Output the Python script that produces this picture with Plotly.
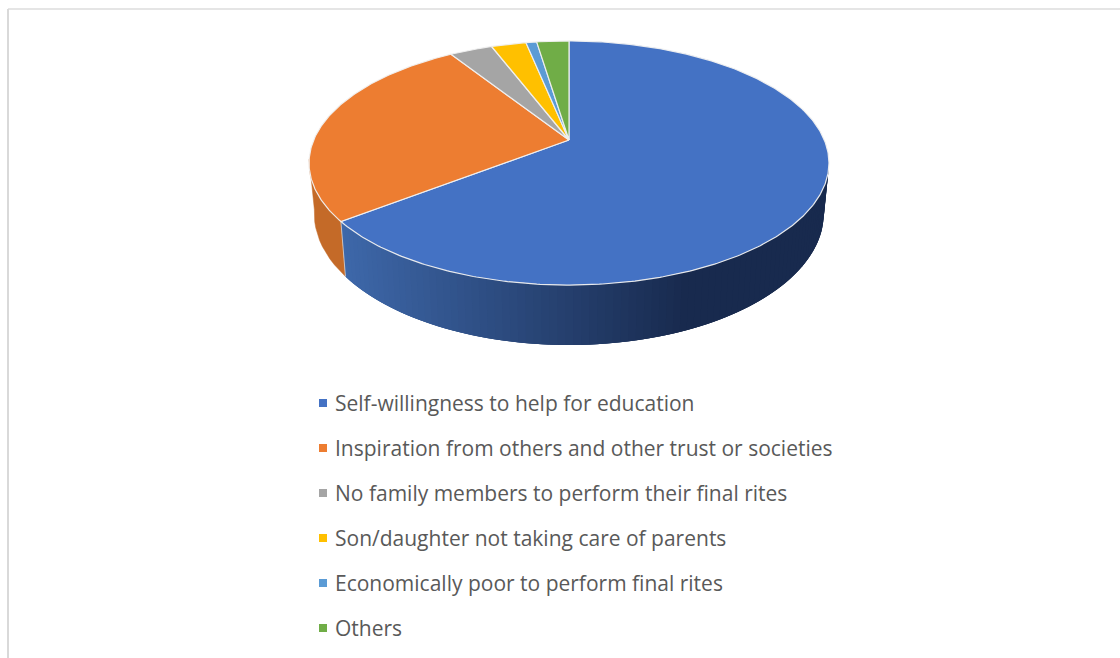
import numpy as np
import plotly.graph_objects as go

# Reasons for body donation, percent of respondents
categories = [
    "Self-willingness to help for education",
    "Inspiration from others and other trust or societies",
    "No family members to perform their final rites",
    "Son/daughter not taking care of parents",
    "Economically poor to perform final rites",
    "Others",
]
values = [64.5, 26.5, 3.2, 2.6, 0.8, 2.4]
colors = ["#4472C4", "#ED7D31", "#A5A5A5", "#FFC000", "#5B9BD5", "#70AD47"]

# Perspective disc: apex position, radii, foreshortening, wall height,
# and how much narrower the lower disc is than the top face
CX, CY = 569.0, 140.0
RX, RY = 255.3, 117.7
PERSP = 0.1885
WALL = 48.7
LOWER_SCALE = 0.98


def project(theta, drop=0.0, scale=1.0):
    """Map clockwise-from-top angles on the unit disc to page pixels."""
    u, v = np.sin(theta), np.cos(theta)
    w = 1 + PERSP * v
    return CX + scale * RX * u / w, CY - RY * v / w + drop / w


def mix(a, b, t):
    return "rgb(%d,%d,%d)" % tuple(round(x + (y - x) * t) for x, y in zip(a, b))


fig = go.Figure()


def polygon(x, y, fill, line=None, width=1.0):
    fig.add_trace(go.Scatter(
        x=x, y=y, mode="lines", fill="toself", fillcolor=fill,
        line=dict(color=line or fill, width=width),
        hoverinfo="skip", showlegend=False,
    ))


def wall(t0, t1, fill, width=0.5):
    th = np.linspace(t0, t1, 12)
    x0, y0 = project(th)
    x1, y1 = project(th[::-1], WALL, LOWER_SCALE)
    polygon(np.r_[x0, x1], np.r_[y0, y1], fill, width=width)


edges = np.cumsum([0] + values) / sum(values) * 2 * np.pi

# Visible rim: the front half of the disc, left and right of the silhouette
rim_right = np.pi - np.arccos(PERSP)
rim_left = np.pi + np.arccos(PERSP)

# Blue wall shades from mid blue at its left end to navy on the right.
# Strips are painted right to left and overlap the one before, so no seams show.
dark = (24, 42, 78)
light = (62, 104, 170)
steps = 90
strip = np.linspace(rim_right - 0.02, edges[1], steps + 1)
for i in range(steps):
    px = project(strip[i])[0]
    t = np.clip((px - 342) / (690 - 342), 0, 1)
    wall(strip[i], strip[min(i + 3, steps)], mix(dark, light, 1 - t), width=0)

# Orange wall, from the slice edge round to the left silhouette
wall(edges[1], rim_left + 0.03, "#C46A28")

# Seam between the two walls
seam = np.array([edges[1], edges[1]])
seam_top = project(seam[:1])
seam_low = project(seam[:1], WALL, LOWER_SCALE)
fig.add_trace(go.Scatter(
    x=np.r_[seam_top[0], seam_low[0]], y=np.r_[seam_top[1], seam_low[1]],
    mode="lines", hoverinfo="skip", showlegend=False,
    line=dict(color="rgba(225,225,225,0.7)", width=1),
))

# Top face slices
for i, (name, col) in enumerate(zip(categories, colors)):
    th = np.linspace(edges[i], edges[i + 1], max(3, int(values[i] * 6)))
    x, y = project(th)
    polygon(np.r_[CX, x, CX], np.r_[CY, y, CY], col, line="rgba(240,240,240,0.95)", width=1.2)

# Legend keys and labels, one row per category
row_y = [403 + 45 * i for i in range(len(categories))]
fig.add_trace(go.Scatter(
    x=[323] * len(categories), y=row_y, mode="markers",
    marker=dict(symbol="square", size=8, color=colors),
    hoverinfo="skip", showlegend=False,
))
fig.add_trace(go.Scatter(
    x=[335] * len(categories), y=[y + 3 for y in row_y], mode="text", text=categories,
    textposition="middle right",
    textfont=dict(family="Open Sans", size=21, color="#595959"),
    hoverinfo="skip", showlegend=False,
))

axis = dict(visible=False, fixedrange=True)
fig.update_layout(
    width=1120, height=658, margin=dict(l=0, r=0, t=0, b=0),
    paper_bgcolor="white", plot_bgcolor="white", showlegend=False,
    xaxis=dict(range=[0, 1120], **axis),
    yaxis=dict(range=[658, 0], **axis),
    shapes=[
        dict(type="line", xref="x", yref="y", x0=8, x1=1120, y0=9, y1=9,
             line=dict(color="#DDDDDD", width=1.5)),
        dict(type="line", xref="x", yref="y", x0=8, x1=8, y0=9, y1=658,
             line=dict(color="#D9D9D9", width=2)),
    ],
)
fig.write_html("out.html")
